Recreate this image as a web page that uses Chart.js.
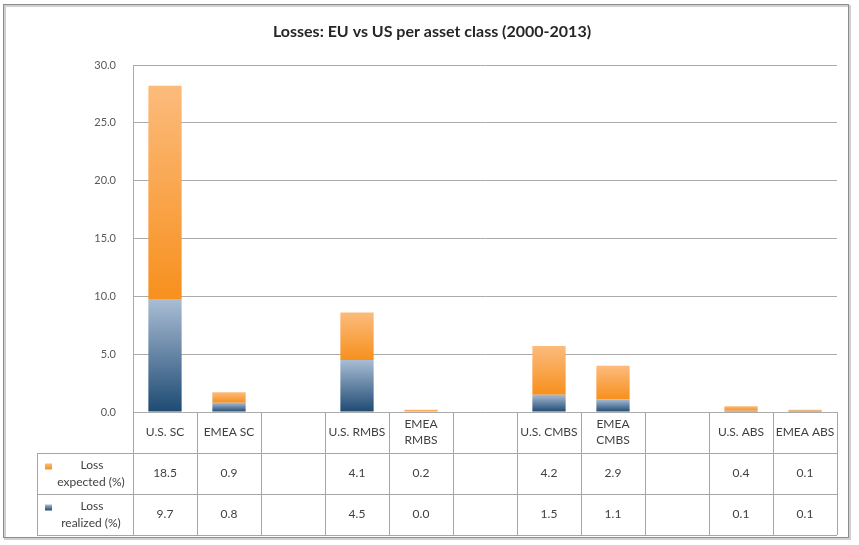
<!DOCTYPE html>
<html><head><meta charset="utf-8">
<script src="https://cdn.jsdelivr.net/npm/chart.js@4.4.1/dist/chart.umd.min.js"></script>
<style>html,body{margin:0;padding:0;background:#fff}#wrap{width:859px;height:545px;position:relative}canvas{display:block}</style>
</head><body><div id="wrap"><canvas id="c" width="859" height="545"></canvas></div>
<script>
const titleText = 'Losses: EU vs US per asset class (2000-2013)';
const categories = [["U.S. SC"],["EMEA SC"],[""],["U.S. RMBS"],["EMEA","RMBS"],[""],["U.S. CMBS"],["EMEA","CMBS"],[""],["U.S. ABS"],["EMEA ABS"]];
const lossExpected = [18.5, 0.9, null, 4.1, 0.2, null, 4.2, 2.9, null, 0.4, 0.1];
const lossRealized = [9.7, 0.8, null, 4.5, 0.0, null, 1.5, 1.1, null, 0.1, 0.1];
const seriesNames = [["Loss","expected (%)"],["Loss","realized (%)"]];
const yMin = 0, yMax = 30, yStep = 5;

const FONT = "Lato, 'Open Sans', sans-serif";
const ORANGE = ['#fcbb7c', '#f7901e'];
const BLUE = ['#a9bdd4', '#1e4a73'];

function stackedTops(arrA, arrB) { return arrA.map((v, i) => v == null ? null : v + (arrB[i] || 0)); }
const realizedTop = lossRealized;
const expectedBottom = lossRealized;
const expectedTop = stackedTops(lossExpected, lossRealized);

function grad(ctx, bottoms, tops, cols) {
  const chart = ctx.chart;
  const y = chart.scales && chart.scales.y;
  if (!y || ctx.type !== 'data') return cols[1];
  const i = ctx.dataIndex;
  if (tops[i] == null) return cols[1];
  const y0 = y.getPixelForValue(bottoms[i] || 0), y1 = y.getPixelForValue(tops[i]);
  if (!isFinite(y0) || !isFinite(y1) || Math.abs(y0 - y1) < 0.5) return cols[1];
  const g = chart.ctx.createLinearGradient(0, y1, 0, y0);
  g.addColorStop(0, cols[0]); g.addColorStop(1, cols[1]);
  return g;
}

const framePlugin = {
  id: 'frame',
  beforeDraw(chart) {
    const c = chart.ctx;
    c.save();
    c.fillStyle = '#fff'; c.fillRect(0, 0, chart.width, chart.height);
    c.strokeStyle = '#d0d0d0'; c.lineWidth = 2;
    c.strokeRect(5, 6, 845, 533);
    c.strokeStyle = '#8c8c8c'; c.lineWidth = 1;
    c.strokeRect(3.5, 4.5, 845, 533);
    c.restore();
  }
};

const tablePlugin = {
  id: 'dataTable',
  afterDraw(chart) {
    const c = chart.ctx, x = chart.scales.x, ca = chart.chartArea;
    const n = categories.length;
    const half = (x.getPixelForValue(1) - x.getPixelForValue(0)) / 2;
    const bounds = [];
    for (let i = 0; i < n; i++) bounds.push(x.getPixelForValue(i) - half);
    bounds.push(x.getPixelForValue(n - 1) + half);
    const right = bounds[n];
    const r0 = ca.bottom, r1 = r0 + 41, r2 = r1 + 41, r3 = r2 + 41;
    const legL = 37;
    const px = v => Math.round(v) + 0.5;
    c.save();
    c.strokeStyle = '#a6a6a6'; c.lineWidth = 1;
    c.beginPath();
    [r1, r2, r3].forEach(r => { c.moveTo(legL, px(r)); c.lineTo(right, px(r)); });
    bounds.forEach(b => { c.moveTo(px(b), r0); c.lineTo(px(b), r3); });
    c.moveTo(px(legL), r1); c.lineTo(px(legL), r3);
    c.stroke();
    c.fillStyle = '#404040';
    c.font = '12px ' + FONT;
    c.textAlign = 'center'; c.textBaseline = 'middle';
    categories.forEach((lab, i) => {
      const cx = x.getPixelForValue(i);
      const mid = (r0 + r1) / 2;
      const lh = 16;
      lab.forEach((t, k) => c.fillText(t, cx, mid + (k - (lab.length - 1) / 2) * lh));
    });
    const rows = [lossExpected, lossRealized];
    const cols = [ORANGE, BLUE];
    [r1, r2].forEach((top, ri) => {
      const mid = (top + top + 41) / 2;
      rows[ri].forEach((v, i) => {
        if (v == null) return;
        c.fillText(v.toFixed(1), x.getPixelForValue(i), mid);
      });
      const names = seriesNames[ri];
      c.fillText(names[0], 92, mid - 8);
      c.fillText(names[1], 91, mid + 9);
      const g = c.createLinearGradient(0, mid - 10, 0, mid - 4);
      g.addColorStop(0, cols[ri][0]); g.addColorStop(1, cols[ri][1]);
      c.fillStyle = g;
      c.fillRect(45, mid - 10, 7, 6);
      c.fillStyle = '#404040';
    });
    c.restore();
  }
};

new Chart(document.getElementById('c'), {
  type: 'bar',
  data: {
    labels: categories,
    datasets: [
      { label: seriesNames[1].join(' '), data: lossRealized, stack: 's',
        backgroundColor: ctx => grad(ctx, lossRealized.map(() => 0), realizedTop, BLUE), borderWidth: 0 },
      { label: seriesNames[0].join(' '), data: lossExpected, stack: 's',
        backgroundColor: ctx => grad(ctx, expectedBottom, expectedTop, ORANGE), borderWidth: 0 }
    ]
  },
  options: {
    responsive: false,
    animation: false,
    devicePixelRatio: 1,
    layout: { padding: { top: 22, right: 22, bottom: 133, left: 27 } },
    categoryPercentage: 1,
    barPercentage: 0.52,
    plugins: {
      legend: { display: false },
      tooltip: { enabled: false },
      title: { display: true, text: titleText, color: '#262626',
        font: { family: FONT, size: 16, weight: 'bold' }, padding: { top: 0, bottom: 23.8 } }
    },
    scales: {
      x: { stacked: true, display: false },
      y: { stacked: true, min: yMin, max: yMax,
        ticks: { stepSize: yStep, callback: v => v.toFixed(1), padding: 17, color: '#595959',
          font: { family: FONT, size: 11 } },
        grid: { color: '#ababab', drawTicks: false },
        border: { color: '#ababab' },
        afterFit(s) { s.width = 106; } }
    }
  },
  plugins: [framePlugin, tablePlugin]
});
</script>
</body></html>
